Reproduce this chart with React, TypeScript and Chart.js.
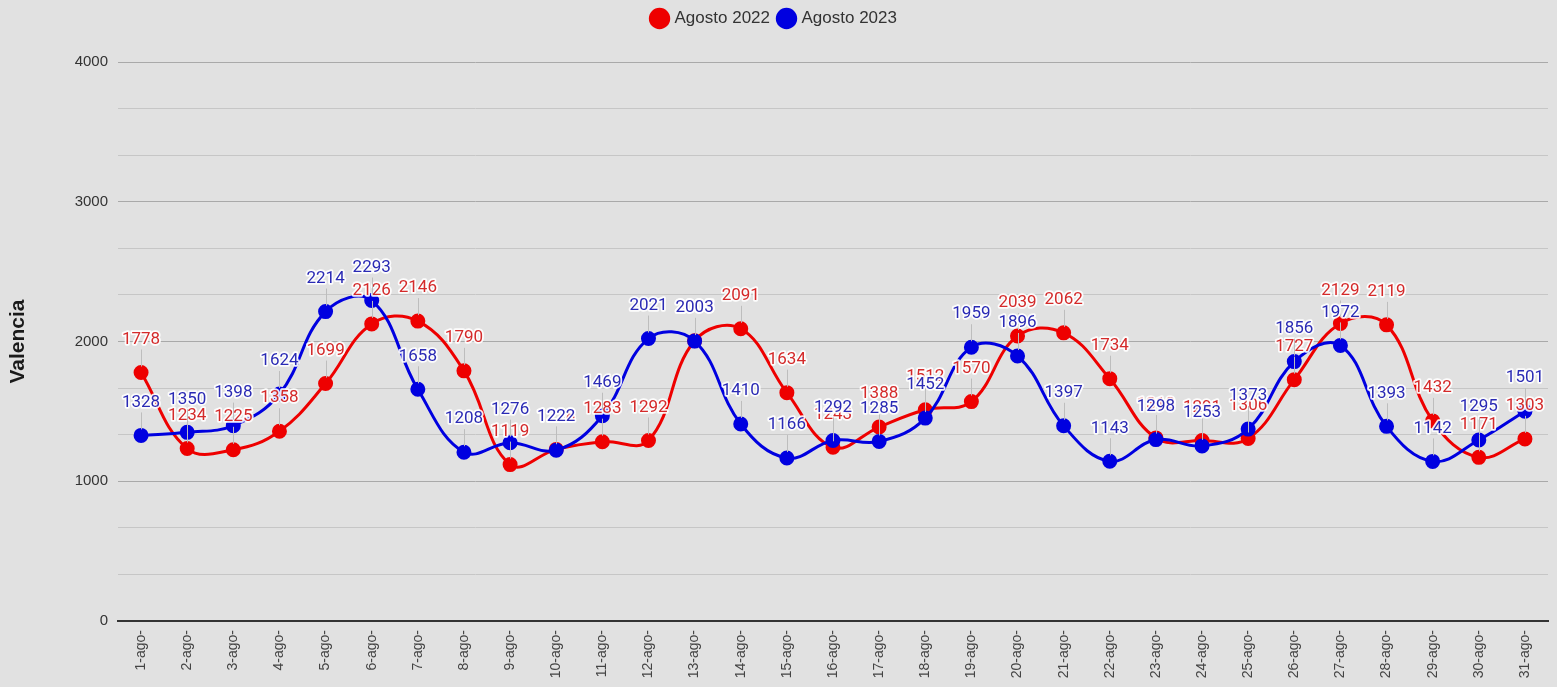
import React, { useEffect, useRef } from 'react';
import { Chart, registerables } from 'chart.js';

Chart.register(...registerables);

const categories = [
  '1-ago-', '2-ago-', '3-ago-', '4-ago-', '5-ago-', '6-ago-', '7-ago-', '8-ago-', '9-ago-', '10-ago-',
  '11-ago-', '12-ago-', '13-ago-', '14-ago-', '15-ago-', '16-ago-', '17-ago-', '18-ago-', '19-ago-', '20-ago-',
  '21-ago-', '22-ago-', '23-ago-', '24-ago-', '25-ago-', '26-ago-', '27-ago-', '28-ago-', '29-ago-', '30-ago-', '31-ago-',
];

const agosto2022 = [
  1778, 1234, 1225, 1358, 1699, 2126, 2146, 1790, 1119, 1228,
  1283, 1292, 2005, 2091, 1634, 1243, 1388, 1512, 1570, 2039,
  2062, 1734, 1310, 1291, 1306, 1727, 2129, 2119, 1432, 1171, 1303,
];

const agosto2023 = [
  1328, 1350, 1398, 1624, 2214, 2293, 1658, 1208, 1276, 1222,
  1469, 2021, 2003, 1410, 1166, 1292, 1285, 1452, 1959, 1896,
  1397, 1143, 1298, 1253, 1373, 1856, 1972, 1393, 1142, 1295, 1501,
];

const yTickValues = [0, 1000, 2000, 3000, 4000];
const seriesNames = ['Agosto 2022', 'Agosto 2023'];

const legendSpacer = {
  id: 'legendSpacer',
  beforeInit(chart: any) {
    if (!chart.legend) return;
    const orig = chart.legend.fit;
    chart.legend.fit = function fit() {
      orig.call(this);
      this.height = 62;
    };
  },
};

const valueLabels = {
  id: 'valueLabels',
  afterDatasetsDraw(chart: any) {
    const ctx = chart.ctx;
    const textColors = ['#d42a2a', '#2a2ab4'];
    ctx.save();
    ctx.font = '17px Roboto';
    ctx.textAlign = 'center';
    ctx.textBaseline = 'middle';
    chart.data.datasets.forEach((ds: any, di: number) => {
      const meta = chart.getDatasetMeta(di);
      meta.data.forEach((pt: any, i: number) => {
        const x = pt.x;
        const y = pt.y;
        const ly = y - 33;
        ctx.strokeStyle = '#bdbdbd';
        ctx.lineWidth = 1;
        ctx.beginPath();
        ctx.moveTo(Math.round(x) + 0.5, ly + 10);
        ctx.lineTo(Math.round(x) + 0.5, y - 6);
        ctx.stroke();
        const txt = String(ds.data[i]);
        ctx.lineJoin = 'round';
        ctx.lineWidth = 3.5;
        ctx.strokeStyle = 'rgba(255,255,255,0.9)';
        ctx.strokeText(txt, x, ly);
        ctx.fillStyle = textColors[di];
        ctx.fillText(txt, x, ly);
      });
    });
    ctx.restore();
  },
};

export default function App() {
  const ref = useRef<HTMLCanvasElement | null>(null);

  useEffect(() => {
    document.body.style.margin = '0';
    document.body.style.background = '#e1e1e1';
    const canvas = ref.current;
    if (!canvas) return;
    const chart = new Chart(canvas, {
      type: 'line',
      data: {
        labels: categories,
        datasets: [
          {
            label: seriesNames[0],
            data: agosto2022,
            borderColor: '#ee0000',
            backgroundColor: '#ee0000',
            pointBackgroundColor: '#ee0000',
            pointBorderColor: '#ee0000',
            borderWidth: 3,
            pointRadius: 6,
            tension: 0.4,
            order: 1,
          },
          {
            label: seriesNames[1],
            data: agosto2023,
            borderColor: '#0000e0',
            backgroundColor: '#0000e0',
            pointBackgroundColor: '#0000e0',
            pointBorderColor: '#0000e0',
            borderWidth: 3,
            pointRadius: 6,
            tension: 0.4,
            order: 0,
          },
        ],
      },
      options: {
        animation: false,
        responsive: false,
        maintainAspectRatio: false,
        layout: { padding: { left: 0, right: 7, top: 0, bottom: 0 } },
        plugins: {
          legend: {
            display: true,
            position: 'top',
            labels: {
              usePointStyle: true,
              pointStyle: 'circle',
              boxWidth: 13,
              boxHeight: 13,
              padding: 10,
              color: '#333',
              font: { family: 'Arial, "Liberation Sans", sans-serif', size: 17 },
              sort: (a: any, b: any) => a.datasetIndex - b.datasetIndex,
            },
          },
          tooltip: { enabled: false },
        },
        scales: {
          x: {
            type: 'category',
            offset: true,
            grid: { display: false, drawTicks: false },
            border: { display: true, color: '#333', width: 2 },
            ticks: {
              autoSkip: false,
              maxRotation: 90,
              minRotation: 90,
              padding: 9,
              color: '#444',
              font: { family: 'Arial, "Liberation Sans", sans-serif', size: 14 },
            },
            afterFit(scale: any) {
              scale.height = 66;
            },
          },
          y: {
            min: 0,
            max: 4000,
            border: { display: false },
            grid: {
              drawTicks: false,
              color: (c: any) => {
                const v = c.tick ? Math.round(c.tick.value) : 1;
                return yTickValues.includes(v) ? '#a9a9a9' : '#c6c6c6';
              },
              lineWidth: 1,
            },
            afterBuildTicks(scale: any) {
              const t: any[] = [];
              for (let k = 0; k < yTickValues.length; k++) {
                t.push({ value: yTickValues[k] });
                if (k < yTickValues.length - 1) {
                  const step = (yTickValues[k + 1] - yTickValues[k]) / 3;
                  t.push({ value: yTickValues[k] + step });
                  t.push({ value: yTickValues[k] + 2 * step });
                }
              }
              scale.ticks = t;
            },
            ticks: {
              autoSkip: false,
              padding: 10,
              color: '#333',
              font: { family: 'Arial, "Liberation Sans", sans-serif', size: 15 },
              callback: (v: any) => {
                const r = Math.round(Number(v));
                return yTickValues.includes(r) && Math.abs(Number(v) - r) < 1e-6 ? String(r) : '';
              },
            },
            title: {
              display: true,
              text: 'Valencia',
              color: '#1a1a1a',
              font: { family: 'Arial, "Liberation Sans", sans-serif', size: 21, weight: 'bold' },
              padding: { top: 6, bottom: 4 },
            },
            afterFit(scale: any) {
              scale.width = 118;
            },
          },
        },
      },
      plugins: [legendSpacer, valueLabels],
    } as any);
    return () => chart.destroy();
  }, []);

  return (
    <div style={{ width: 1557, height: 687, background: '#e1e1e1' }}>
      <canvas ref={ref} width={1557} height={687} style={{ display: 'block' }} />
    </div>
  );
}
